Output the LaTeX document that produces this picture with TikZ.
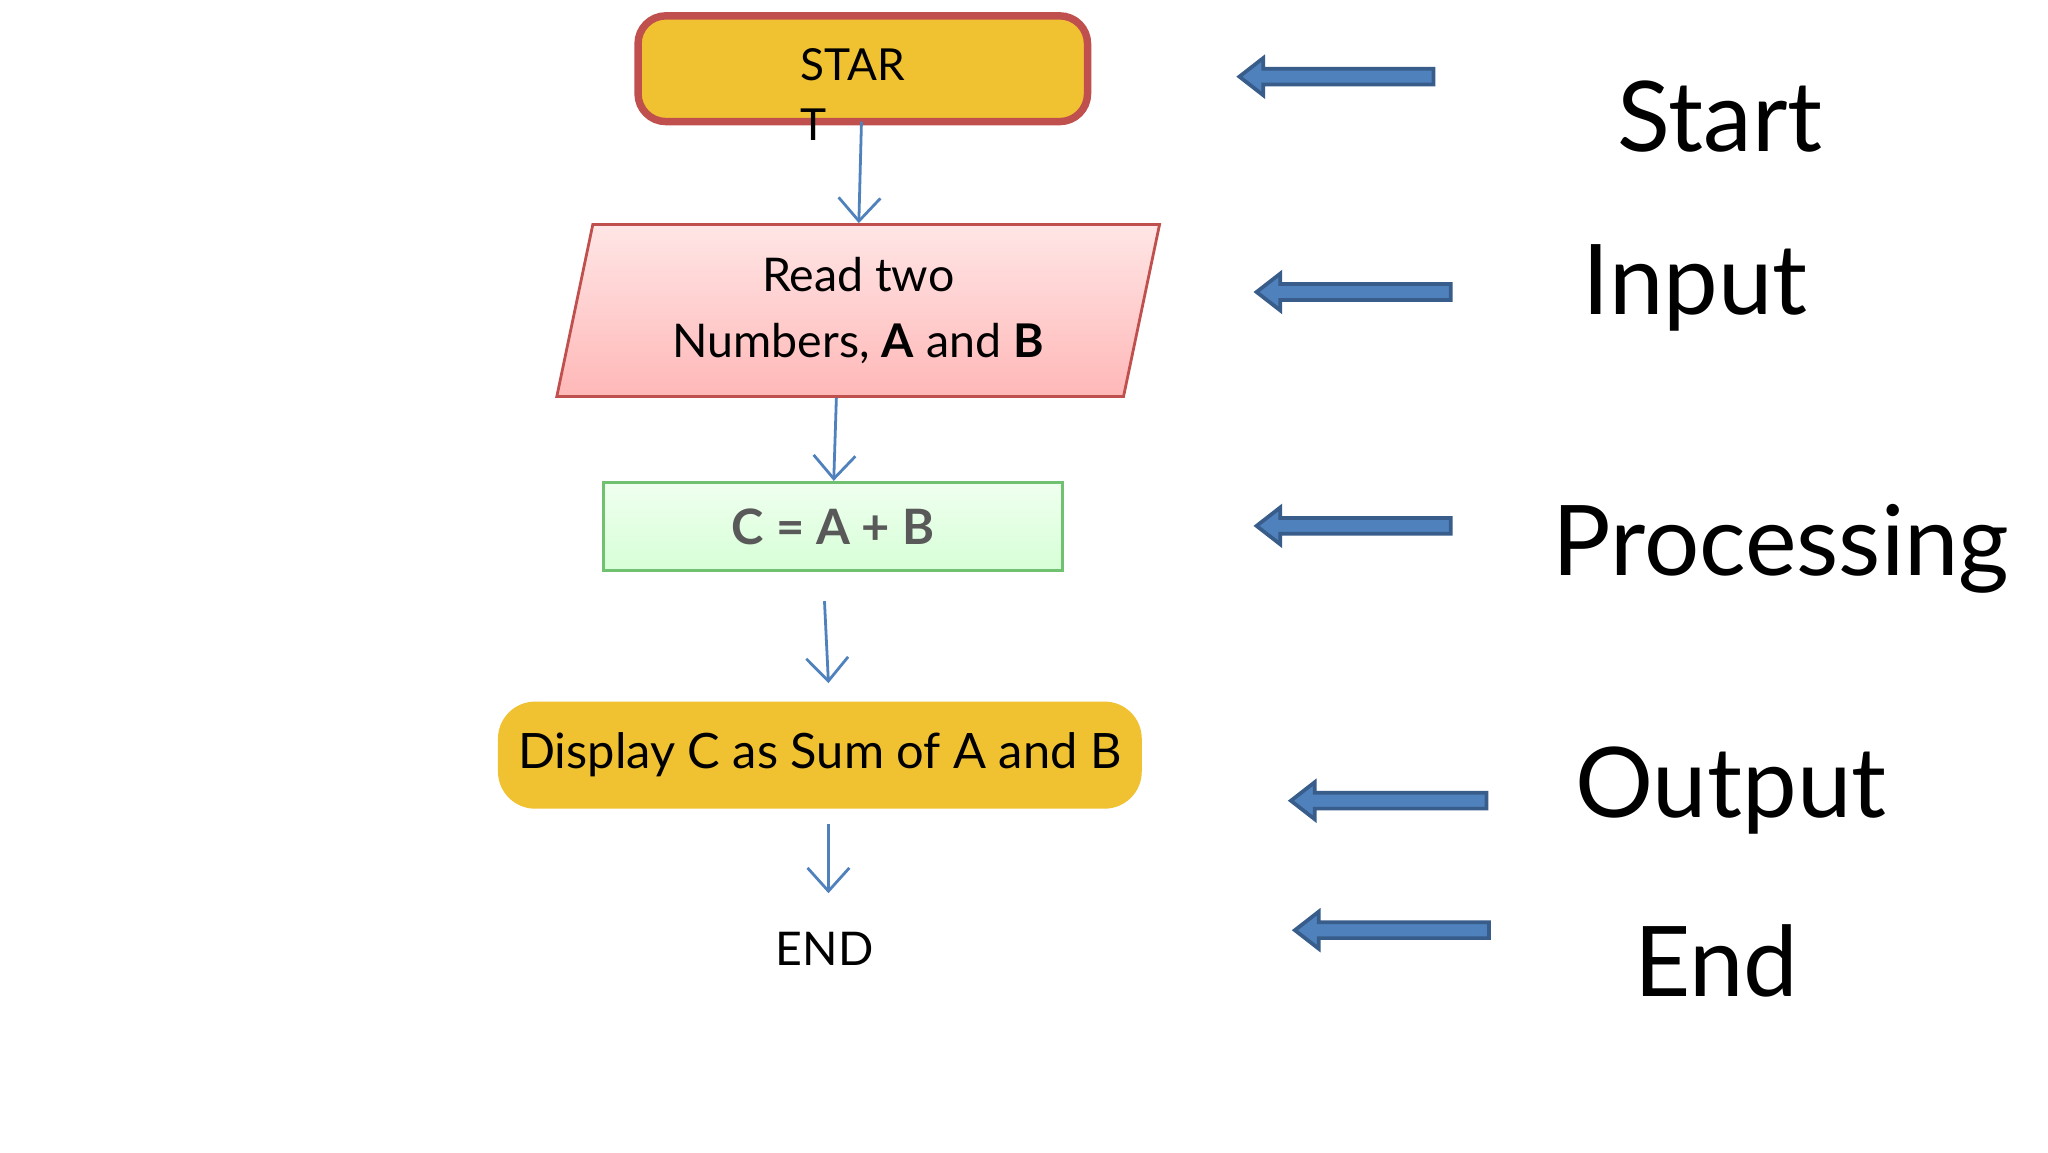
\documentclass[tikz,border=0pt]{standalone}
\usepackage{fontspec}
\setmainfont{Lato}
\usetikzlibrary{shapes.geometric,arrows.meta}
\definecolor{gold}{HTML}{F0C232}
\definecolor{redb}{HTML}{C0504D}
\definecolor{blu}{HTML}{4F81BD}
\definecolor{dblu}{HTML}{385D8A}
\tikzset{
 flow/.style={draw=blu,line width=0.6pt,-{Straight Barb[length=5pt,width=9pt]}},
 lbl/.style={font=\fontsize{21}{24}\selectfont,anchor=center},
 barrow/.style={fill=blu,draw=dblu,line width=0.8pt}
}
\newcommand{\blockarrow}[3]{% tip x, tail x, y
 \draw[barrow] (#1,#3) -- (#1+18,#3-14) -- (#1+18,#3-6) -- (#2,#3-6) -- (#2,#3+6) -- (#1+18,#3+6) -- (#1+18,#3+14) -- cycle;}
\begin{document}
\begin{tikzpicture}[x=0.01cm,y=-0.01cm]
\useasboundingbox (0,0) rectangle (1550,872);
\fill[white] (0,0) rectangle (1550,872);
\node[draw=redb,line width=1.6pt,fill=gold,rounded corners=6pt,minimum width=340\pgflinewidth*0+3.4cm,minimum height=0.8cm] (start) at (653,52) {};
\node[font=\fontsize{9.5}{14}\selectfont,align=left,anchor=north west,inner sep=0] (starttxt) at (605,36) {STAR\\[-1pt]T};
\node[trapezium,trapezium left angle=76.6,trapezium right angle=103.4,trapezium stretches=true,minimum width=4.57cm,minimum height=1.3cm,draw=redb,line width=0.6pt,top color=red!10,bottom color=red!28,align=center,font=\fontsize{10}{14}\selectfont,inner sep=0] (in) at (649.5,235) {Read two\\Numbers, \textbf{A} and \textbf{B}};
\node[draw=green!40!gray!80,line width=0.6pt,top color=green!6,bottom color=green!16,minimum width=3.47cm,minimum height=0.67cm,font=\bfseries\fontsize{10.5}{12}\selectfont,text=black!65,text depth=-3pt] (proc) at (630.5,398.5) {C = A + B};
\node[fill=gold,rounded corners=8pt,minimum width=4.87cm,minimum height=0.81cm,font=\fontsize{10.5}{12}\selectfont] (out) at (620.5,571.5) {Display C as Sum of A and B};
\node[font=\fontsize{10}{12}\selectfont] (end) at (624,718) {END};
\coordinate (p1) at (624,455);
\coordinate (p2) at (627,517);
\coordinate (p3) at (627,624);
\coordinate (p4) at (627,676);
\draw[flow] (652,92) -- (in.north-|650,0);
\draw[flow] (in.south-|633,0) -- (proc.north-|631,0);
\draw[flow] (p1) -- (p2);
\draw[flow] (p3) -- (p4);
\blockarrow{938}{1085}{58}
\blockarrow{951}{1098}{221}
\blockarrow{951}{1098}{398}
\blockarrow{977}{1125}{606}
\blockarrow{980}{1127}{704}
\node[lbl] (l1) at (1302,88) {Start};
\node[lbl] (l2) at (1283,218) {Input};
\node[lbl] (l3) at (1348,415) {Processing};
\node[lbl] (l4) at (1310,598) {Output};
\node[lbl] (l5) at (1299,727) {End};
\end{tikzpicture}
\end{document}
